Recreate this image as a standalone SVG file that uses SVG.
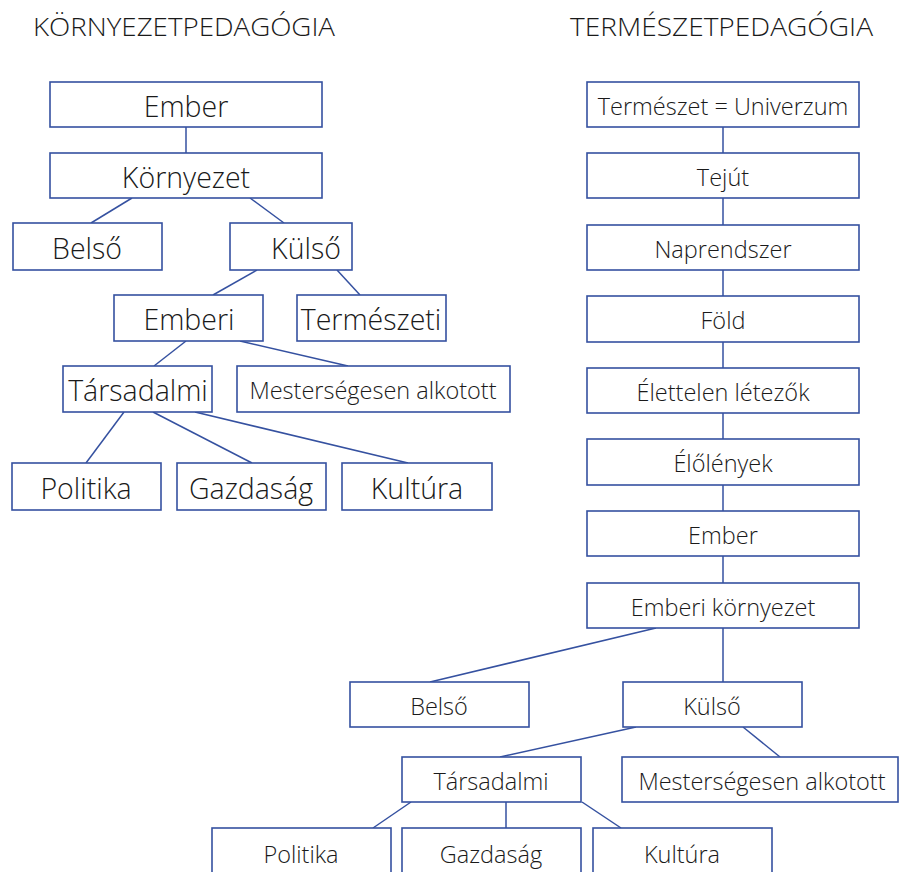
<svg xmlns="http://www.w3.org/2000/svg" width="899" height="872" viewBox="0 0 899 872">
<style>
rect{fill:#fff;stroke:#3551a0;stroke-width:1.6}
.c line{stroke:#3551a0;stroke-width:1.5}
text{font-family:"Open Sans","Segoe UI","Liberation Sans",sans-serif;font-weight:300;fill:#1a1a1a;text-anchor:middle}
.L{font-size:28.5px}
.S{font-size:23.5px}
.T{font-size:25px;text-anchor:start}
</style>
<rect width="899" height="872" style="fill:#fff;stroke:none"/>
<g id="titles">
<text class="T" x="33" y="36" textLength="302" lengthAdjust="spacingAndGlyphs">KÖRNYEZETPEDAGÓGIA</text>
<text class="T" x="570" y="36" textLength="303" lengthAdjust="spacingAndGlyphs">TERMÉSZETPEDAGÓGIA</text>
</g>
<g class="c" id="connectors">
<line x1="186" y1="127" x2="186" y2="153"/>
<line x1="132" y1="198" x2="91" y2="223"/>
<line x1="250" y1="198" x2="284" y2="223"/>
<line x1="257" y1="270" x2="213" y2="295"/>
<line x1="337" y1="270" x2="360" y2="295"/>
<line x1="186" y1="341" x2="154" y2="366"/>
<line x1="240" y1="341" x2="348" y2="366"/>
<line x1="124" y1="412" x2="86" y2="463"/>
<line x1="153" y1="412" x2="252" y2="463"/>
<line x1="195" y1="412" x2="408" y2="463"/>
<line x1="723" y1="127" x2="723" y2="583"/>
<line x1="656" y1="628" x2="430" y2="682"/>
<line x1="723" y1="628" x2="723" y2="682"/>
<line x1="636" y1="727" x2="500" y2="757"/>
<line x1="743" y1="727" x2="780" y2="757"/>
<line x1="411" y1="802" x2="373" y2="828"/>
<line x1="506" y1="802" x2="506" y2="828"/>
<line x1="582" y1="802" x2="621" y2="828"/>
</g>
<g id="k-ember"><rect x="50" y="82" width="272" height="45"/><text class="L" x="186" y="117">Ember</text></g>
<g id="k-kornyezet"><rect x="50" y="153" width="272" height="45"/><text class="L" x="186" y="188">Környezet</text></g>
<g id="k-belso"><rect x="13" y="223" width="149" height="47"/><text class="L" x="87" y="259">Belső</text></g>
<g id="k-kulso"><rect x="230" y="223" width="122" height="47"/><text class="L" x="306" y="259">Külső</text></g>
<g id="k-emberi"><rect x="114" y="295" width="149" height="46"/><text class="L" x="189" y="330">Emberi</text></g>
<g id="k-termeszeti"><rect x="297" y="295" width="149" height="46"/><text class="L" x="371" y="330">Természeti</text></g>
<g id="k-tarsadalmi"><rect x="63" y="366" width="149" height="46"/><text class="L" x="138" y="401">Társadalmi</text></g>
<g id="k-mesterseges"><rect x="237" y="366" width="273" height="46"/><text class="S" x="373" y="399">Mesterségesen alkotott</text></g>
<g id="k-politika"><rect x="12" y="463" width="149" height="47"/><text class="L" x="86" y="499">Politika</text></g>
<g id="k-gazdasag"><rect x="177" y="463" width="149" height="47"/><text class="L" x="251" y="499">Gazdaság</text></g>
<g id="k-kultura"><rect x="342" y="463" width="150" height="47"/><text class="L" x="417" y="499">Kultúra</text></g>
<g id="t-univerzum"><rect x="587" y="82" width="272" height="45"/><text class="S" x="723" y="115">Természet = Univerzum</text></g>
<g id="t-tejut"><rect x="587" y="153" width="272" height="45"/><text class="S" x="723" y="186">Tejút</text></g>
<g id="t-naprendszer"><rect x="587" y="225" width="272" height="45"/><text class="S" x="723" y="258">Naprendszer</text></g>
<g id="t-fold"><rect x="587" y="296" width="272" height="46"/><text class="S" x="723" y="329">Föld</text></g>
<g id="t-elettelen"><rect x="587" y="368" width="272" height="45"/><text class="S" x="723" y="401">Élettelen létezők</text></g>
<g id="t-elolenyek"><rect x="587" y="439" width="272" height="46"/><text class="S" x="723" y="472">Élőlények</text></g>
<g id="t-ember"><rect x="587" y="511" width="272" height="45"/><text class="S" x="723" y="544">Ember</text></g>
<g id="t-emberi-kornyezet"><rect x="587" y="583" width="272" height="45"/><text class="S" x="723" y="616">Emberi környezet</text></g>
<g id="t-belso"><rect x="350" y="682" width="179" height="45"/><text class="S" x="439" y="715">Belső</text></g>
<g id="t-kulso"><rect x="623" y="682" width="179" height="45"/><text class="S" x="712" y="715">Külső</text></g>
<g id="t-tarsadalmi"><rect x="402" y="757" width="179" height="45"/><text class="S" x="491" y="790">Társadalmi</text></g>
<g id="t-mesterseges"><rect x="622" y="757" width="276" height="45"/><text class="S" x="762" y="790">Mesterségesen alkotott</text></g>
<g id="t-politika"><rect x="212" y="828" width="179" height="50"/><text class="S" x="301" y="863">Politika</text></g>
<g id="t-gazdasag"><rect x="402" y="828" width="179" height="50"/><text class="S" x="491" y="863">Gazdaság</text></g>
<g id="t-kultura"><rect x="593" y="828" width="179" height="50"/><text class="S" x="682" y="863">Kultúra</text></g>
</svg>
